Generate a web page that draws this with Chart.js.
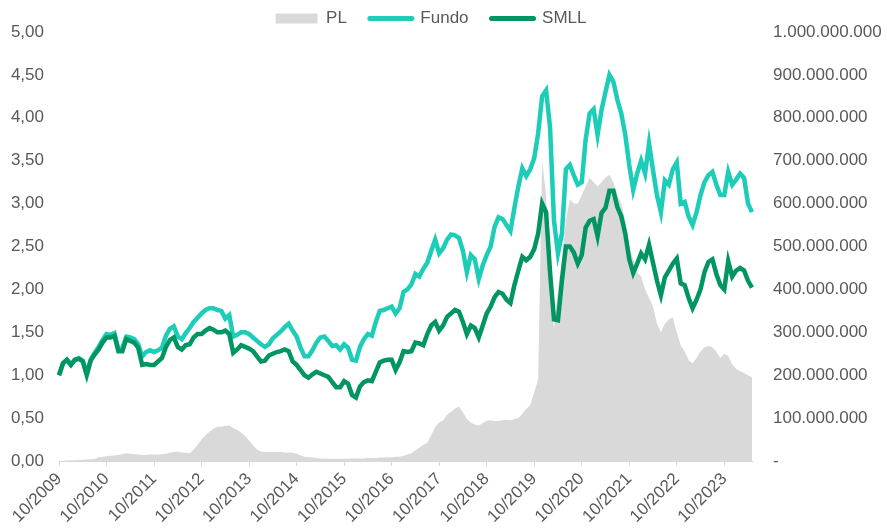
<!DOCTYPE html>
<html>
<head>
<meta charset="utf-8">
<title>PL x Fundo x SMLL</title>
<script src="https://cdn.jsdelivr.net/npm/chart.js@4.4.1/dist/chart.umd.min.js"></script>
<style>
  html, body { margin: 0; padding: 0; background: #fff; }
  #wrap { width: 887px; height: 529px; }
</style>
</head>
<body>
<div id="wrap"><canvas id="chart" width="887" height="529"></canvas></div>
<script>
// --- Data (monthly, 10/2009 .. 05/2024) ---
const firstMonth = 10;
const firstYear = 2009;
const monthCount = 176;

// Fundo, base 1,00
const fundo = [
  1.00, 1.14, 1.18, 1.12, 1.18, 1.20, 1.17, 1.02, 1.18, 1.26,
  1.33, 1.41, 1.48, 1.47, 1.49, 1.30, 1.32, 1.45, 1.44, 1.42,
  1.36, 1.22, 1.27, 1.29, 1.27, 1.29, 1.32, 1.46, 1.54, 1.57,
  1.45, 1.42, 1.49, 1.55, 1.62, 1.67, 1.72, 1.76, 1.78, 1.78,
  1.76, 1.75, 1.66, 1.70, 1.45, 1.47, 1.50, 1.50, 1.48, 1.44,
  1.40, 1.36, 1.33, 1.36, 1.43, 1.47, 1.51, 1.56, 1.60, 1.52,
  1.45, 1.32, 1.22, 1.22, 1.29, 1.38, 1.44, 1.45, 1.40, 1.34,
  1.35, 1.30, 1.36, 1.32, 1.18, 1.17, 1.33, 1.42, 1.48, 1.46,
  1.62, 1.75, 1.76, 1.78, 1.80, 1.72, 1.78, 1.97, 2.00, 2.06,
  2.18, 2.15, 2.24, 2.31, 2.45, 2.58, 2.42, 2.48, 2.58, 2.64,
  2.63, 2.60, 2.45, 2.20, 2.40, 2.35, 2.12, 2.28, 2.40, 2.50,
  2.73, 2.84, 2.82, 2.75, 2.68, 2.95, 3.20, 3.41, 3.32, 3.40,
  3.53, 3.82, 4.25, 4.32, 3.89, 2.80, 2.42, 2.65, 3.40, 3.45,
  3.33, 3.22, 3.25, 3.75, 4.05, 4.10, 3.80, 4.09, 4.30, 4.50,
  4.42, 4.21, 4.05, 3.80, 3.45, 3.16, 3.35, 3.50, 3.35, 3.70,
  3.39, 3.10, 2.90, 3.27, 3.22, 3.40, 3.48, 3.00, 3.02, 2.85,
  2.75, 2.90, 3.10, 3.25, 3.33, 3.37, 3.22, 3.10, 3.10, 3.37,
  3.22, 3.28, 3.35, 3.30, 3.00, 2.90
];

// SMLL, base 1,00
const smll = [
  1.00, 1.14, 1.18, 1.12, 1.18, 1.19, 1.16, 1.00, 1.17, 1.24,
  1.30, 1.38, 1.44, 1.44, 1.46, 1.28, 1.28, 1.42, 1.40, 1.38,
  1.32, 1.12, 1.13, 1.12, 1.12, 1.16, 1.20, 1.33, 1.41, 1.44,
  1.33, 1.30, 1.35, 1.36, 1.44, 1.48, 1.48, 1.52, 1.55, 1.53,
  1.50, 1.50, 1.52, 1.48, 1.26, 1.30, 1.35, 1.33, 1.31, 1.28,
  1.22, 1.16, 1.17, 1.23, 1.25, 1.27, 1.28, 1.30, 1.28, 1.16,
  1.12, 1.06, 1.00, 0.97, 1.01, 1.04, 1.02, 1.00, 0.98, 0.92,
  0.86, 0.86, 0.93, 0.90, 0.77, 0.74, 0.87, 0.92, 0.94, 0.93,
  1.04, 1.15, 1.17, 1.18, 1.18, 1.06, 1.15, 1.28, 1.27, 1.28,
  1.38, 1.37, 1.35, 1.48, 1.58, 1.62, 1.52, 1.58, 1.68, 1.72,
  1.76, 1.74, 1.62, 1.48, 1.58, 1.55, 1.44, 1.58, 1.72, 1.80,
  1.91, 1.97, 1.95, 1.88, 1.84, 2.05, 2.22, 2.38, 2.34, 2.38,
  2.47, 2.65, 3.00, 2.90, 2.20, 1.65, 1.64, 2.10, 2.50, 2.50,
  2.43, 2.30, 2.40, 2.72, 2.80, 2.82, 2.62, 2.89, 2.95, 3.15,
  3.15, 2.96, 2.85, 2.65, 2.35, 2.19, 2.30, 2.42, 2.35, 2.52,
  2.31, 2.10, 1.93, 2.14, 2.22, 2.30, 2.36, 2.07, 2.05, 1.90,
  1.78, 1.88, 2.00, 2.20, 2.32, 2.35, 2.18, 2.05, 2.00, 2.33,
  2.15, 2.22, 2.25, 2.22, 2.10, 2.02
];

// PL in millions of reais (right axis)
const plMillions = [
  0, 0.5, 1, 1.5, 2, 2.5, 3, 3.5, 4, 4.5,
  9, 10, 11, 12, 13, 14, 16, 18, 17, 16,
  15, 14, 14, 15, 15, 15, 16, 17, 19, 21,
  22, 20, 19, 18, 26, 38, 50, 60, 68, 75,
  80, 80, 82, 83, 77, 72, 66, 58, 48, 37,
  27, 22, 21, 21, 21, 21, 21, 20, 20, 19,
  17, 13, 10, 9, 8, 7, 6, 6, 5, 5,
  5, 5, 5, 5, 6, 6, 6, 6, 7, 7,
  7, 8, 8, 9, 9, 10, 10, 12, 15, 18,
  25, 31, 38, 42, 60, 80, 90, 95, 108, 115,
  122, 127, 113, 98, 90, 85, 83, 88, 94, 95,
  93, 93, 95, 96, 95, 98, 100, 110, 122, 130,
  160, 190, 700, 620, 400, 310, 400, 470, 560, 610,
  600, 600, 620, 640, 660, 650, 640, 650, 660, 667,
  650, 620, 600, 560, 500, 470, 440, 430, 400, 380,
  360, 320, 300, 320, 330, 335, 300, 270, 255, 235,
  228, 240, 255, 265, 268, 265, 255, 240, 250, 245,
  225, 215, 210, 205, 200, 195
];

const leftMax = 5;
const leftStep = 0.5;
const rightMax = 1000;   // millions
const rightStep = 100;

// month labels "MM/YYYY"
const months = [];
for (let i = 0; i < monthCount; i++) {
  const m = (firstMonth - 1 + i) % 12 + 1;
  const y = firstYear + Math.floor((firstMonth - 1 + i) / 12);
  months.push(String(m).padStart(2, '0') + '/' + y);
}

const GREY_TEXT = '#595959';
const PL_COLOR = '#d9d9d9';
const FUNDO_COLOR = '#1dcdb8';
const SMLL_COLOR = '#009563';

Chart.defaults.font.family = "'Liberation Sans', Arial, sans-serif";
Chart.defaults.font.size = 17;
Chart.defaults.color = GREY_TEXT;

function thousands(n) {
  return String(Math.round(n)).replace(/\B(?=(\d{3})+(?!\d))/g, '.');
}

new Chart(document.getElementById('chart'), {
  type: 'line',
  data: {
    labels: months,
    datasets: [
      {
        label: 'PL',
        data: plMillions,
        yAxisID: 'y1',
        fill: 'origin',
        backgroundColor: PL_COLOR,
        borderWidth: 0,
        pointRadius: 0,
        order: 2
      },
      {
        label: 'Fundo',
        data: fundo,
        yAxisID: 'y',
        borderColor: FUNDO_COLOR,
        backgroundColor: FUNDO_COLOR,
        borderWidth: 4.5,
        pointRadius: 0,
        fill: false,
        order: 1
      },
      {
        label: 'SMLL',
        data: smll,
        yAxisID: 'y',
        borderColor: SMLL_COLOR,
        backgroundColor: SMLL_COLOR,
        borderWidth: 4.5,
        pointRadius: 0,
        fill: false,
        order: 0
      }
    ]
  },
  options: {
    responsive: false,
    animation: false,
    // negative left/top padding only shifts the legend box so it centres like the original
    layout: { padding: { top: -13, right: 0, left: -25, bottom: 0 } },
    plugins: {
      tooltip: { enabled: false },
      legend: {
        position: 'top',
        maxHeight: 45,
        labels: {
          usePointStyle: true,
          pointStyleWidth: 42,
          boxHeight: 10,
          padding: 23,
          color: GREY_TEXT,
          font: { size: 17 },
          generateLabels: chart => chart.data.datasets.map((ds, i) => ({
            text: ds.label,
            datasetIndex: i,
            fillStyle: i === 0 ? PL_COLOR : ds.borderColor,
            strokeStyle: i === 0 ? PL_COLOR : ds.borderColor,
            lineWidth: i === 0 ? 0 : 5,
            lineCap: 'round',
            pointStyle: i === 0 ? 'rect' : 'line',
            hidden: !chart.isDatasetVisible(i),
            fontColor: GREY_TEXT
          }))
        }
      }
    },
    scales: {
      x: {
        type: 'category',
        offset: false,
        grid: { display: true, drawOnChartArea: false, drawTicks: true, tickLength: 5, color: '#d9d9d9' },
        border: { display: true, color: '#d9d9d9' },
        ticks: {
          autoSkip: false,
          minRotation: 45,
          maxRotation: 45,
          padding: 3,
          callback: function (val) {
            const l = this.getLabelForValue(val);
            return l.startsWith('10/') ? l : null;
          }
        },
        afterFit: s => { s.height = 68; }
      },
      y: {
        position: 'left',
        min: 0,
        max: leftMax,
        grid: { display: false, drawTicks: false },
        border: { display: false },
        ticks: {
          stepSize: leftStep,
          padding: 15,
          callback: v => v.toFixed(2).replace('.', ',')
        },
        afterFit: s => { s.width = 84; }
      },
      y1: {
        position: 'right',
        min: 0,
        max: rightMax,
        grid: { display: false, drawTicks: false },
        border: { display: false },
        ticks: {
          stepSize: rightStep,
          padding: 21,
          callback: v => v === 0 ? '-' : thousands(v * 1000000)
        },
        afterFit: s => { s.width = 135; }
      }
    }
  }
});
</script>
</body>
</html>
